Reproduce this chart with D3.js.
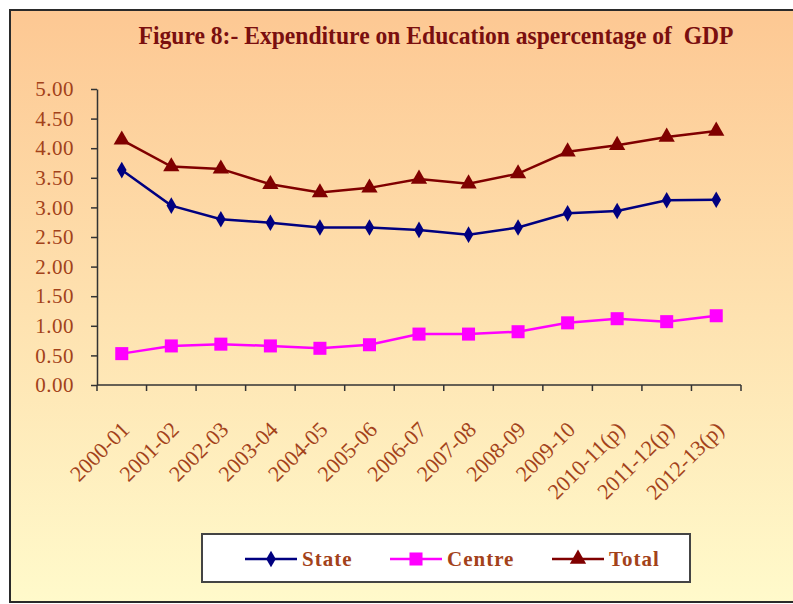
<!DOCTYPE html>
<html>
  <head>
    <meta charset="utf-8">
    <title>Expenditure on Education</title>
    <script src="https://cdn.jsdelivr.net/npm/d3@7"></script>
    <style>
      body { margin: 0; background: #fff; }
      .lbl { font-family: "Liberation Serif", "Times New Roman", serif; fill: #a3421a; }
    </style>
  </head>
  <body>
    <div id="chart"></div>
    <script>
      // values (per cent of GDP)
      var years = ['2000-01', '2001-02', '2002-03', '2003-04', '2004-05', '2005-06', '2006-07',
                   '2007-08', '2008-09', '2009-10', '2010-11(p)', '2011-12(p)', '2012-13(p)'];
      var state  = [3.63, 3.03, 2.80, 2.74, 2.66, 2.66, 2.62, 2.54, 2.66, 2.90, 2.94, 3.12, 3.13];
      var centre = [0.53, 0.66, 0.69, 0.66, 0.62, 0.68, 0.86, 0.86, 0.90, 1.05, 1.12, 1.07, 1.17];
      var total  = [4.14, 3.69, 3.65, 3.39, 3.25, 3.33, 3.48, 3.40, 3.57, 3.94, 4.05, 4.19, 4.29];
      var yTicks = [0, 0.5, 1, 1.5, 2, 2.5, 3, 3.5, 4, 4.5, 5];

      var width = 793, height = 604;

      var svg = d3.select('#chart').append('svg')
        .attr('width', width)
        .attr('height', height);

      var grad = svg.append('defs').append('linearGradient')
        .attr('id', 'bg').attr('x1', 0).attr('y1', 0).attr('x2', 0).attr('y2', 1);
      grad.append('stop').attr('offset', '0%').attr('stop-color', '#fdc893');
      grad.append('stop').attr('offset', '100%').attr('stop-color', '#fffacb');

      // frame
      svg.append('rect')
        .attr('x', 10).attr('y', 10)
        .attr('width', 800).attr('height', 592)
        .attr('fill', 'url(#bg)')
        .attr('stroke', '#2a2a2a').attr('stroke-width', 2);

      svg.append('text')
        .attr('x', 436).attr('y', 44)
        .attr('text-anchor', 'middle')
        .attr('textLength', 595).attr('lengthAdjust', 'spacingAndGlyphs')
        .style('white-space', 'pre')
        .style('font-family', '"Liberation Serif", "Times New Roman", serif')
        .style('font-weight', 'bold').style('font-size', '25px')
        .style('fill', '#7a0f0f')
        .text('Figure 8:- Expenditure on Education aspercentage of  GDP');

      var x = d3.scaleBand().domain(years).range([97, 741]);
      var y = d3.scaleLinear().domain([0, 5]).range([385, 89]);

      // y axis
      var yAxis = svg.append('g')
        .attr('transform', 'translate(97,0)')
        .call(d3.axisLeft(y).tickValues(yTicks).tickFormat(d3.format('.2f'))
          .tickSize(6).tickSizeOuter(0).tickPadding(17));
      yAxis.select('.domain').attr('stroke', '#333').attr('stroke-width', 1.5);
      yAxis.selectAll('.tick line').attr('stroke', '#333').attr('stroke-width', 1.5);
      yAxis.selectAll('.tick text')
        .attr('class', 'lbl')
        .style('font-size', '21px')
        .style('letter-spacing', '0.5px')
        .attr('fill', null);
      yAxis.attr('font-family', null).attr('font-size', null);

      // x axis with ticks between the categories
      var xAxis = svg.append('g');
      xAxis.append('line')
        .attr('x1', x.range()[0]).attr('x2', x.range()[1])
        .attr('y1', y(0)).attr('y2', y(0))
        .attr('stroke', '#333').attr('stroke-width', 1.5);
      var bounds = years.map(function(d) { return x(d); }).concat([x.range()[1]]);
      xAxis.selectAll('.xt').data(bounds).enter().append('line')
        .attr('class', 'xt')
        .attr('x1', function(d) { return d; }).attr('x2', function(d) { return d; })
        .attr('y1', y(0)).attr('y2', y(0) + 6)
        .attr('stroke', '#333').attr('stroke-width', 1.5);
      xAxis.selectAll('.xl').data(years).enter().append('text')
        .attr('class', 'lbl')
        .attr('text-anchor', 'end')
        .style('font-size', '22px')
        .attr('transform', function(d) {
          return 'translate(' + (x(d) + x.bandwidth() / 2 + 9) + ',' + 431 + ') rotate(-45)';
        })
        .text(function(d) { return d; });

      var cx = function(d, i) { return x(years[i]) + x.bandwidth() / 2; };

      var series = [
        { name: 'State', values: state, color: '#000080', shape: d3.symbolDiamond, size: 80 },
        { name: 'Centre', values: centre, color: '#ff00ff', shape: d3.symbolSquare, size: 170 },
        { name: 'Total', values: total, color: '#800000', shape: d3.symbolTriangle, size: 115 }
      ];

      var line = d3.line()
        .x(cx)
        .y(function(d) { return y(d); });

      series.forEach(function(s) {
        svg.append('path')
          .datum(s.values)
          .attr('d', line)
          .attr('fill', 'none')
          .attr('stroke', s.color)
          .attr('stroke-width', 2.5);
        svg.selectAll(null).data(s.values).enter().append('path')
          .attr('d', d3.symbol().type(s.shape).size(s.size))
          .attr('transform', function(d, i) {
            return 'translate(' + cx(d, i) + ',' + y(d) + ')';
          })
          .attr('fill', s.color);
      });

      // legend
      var legend = svg.append('g');
      legend.append('rect')
        .attr('x', 202).attr('y', 534)
        .attr('width', 488).attr('height', 48)
        .attr('fill', '#fff')
        .attr('stroke', '#444').attr('stroke-width', 2);

      var legendX = [245, 390, 552];
      var item = legend.selectAll('.item').data(series).enter().append('g')
        .attr('transform', function(d, i) { return 'translate(' + legendX[i] + ',559)'; });
      item.append('line')
        .attr('x1', 0).attr('x2', 52)
        .attr('stroke', function(d) { return d.color; })
        .attr('stroke-width', 2.5);
      item.append('path')
        .attr('transform', 'translate(26,0)')
        .attr('d', function(d) { return d3.symbol().type(d.shape).size(d.size)(); })
        .attr('fill', function(d) { return d.color; });
      item.append('text')
        .attr('class', 'lbl')
        .attr('x', 57).attr('y', 7)
        .style('font-size', '21px')
        .style('font-weight', 'bold')
        .style('letter-spacing', '1px')
        .text(function(d) { return d.name; });
    </script>
  </body>
</html>
